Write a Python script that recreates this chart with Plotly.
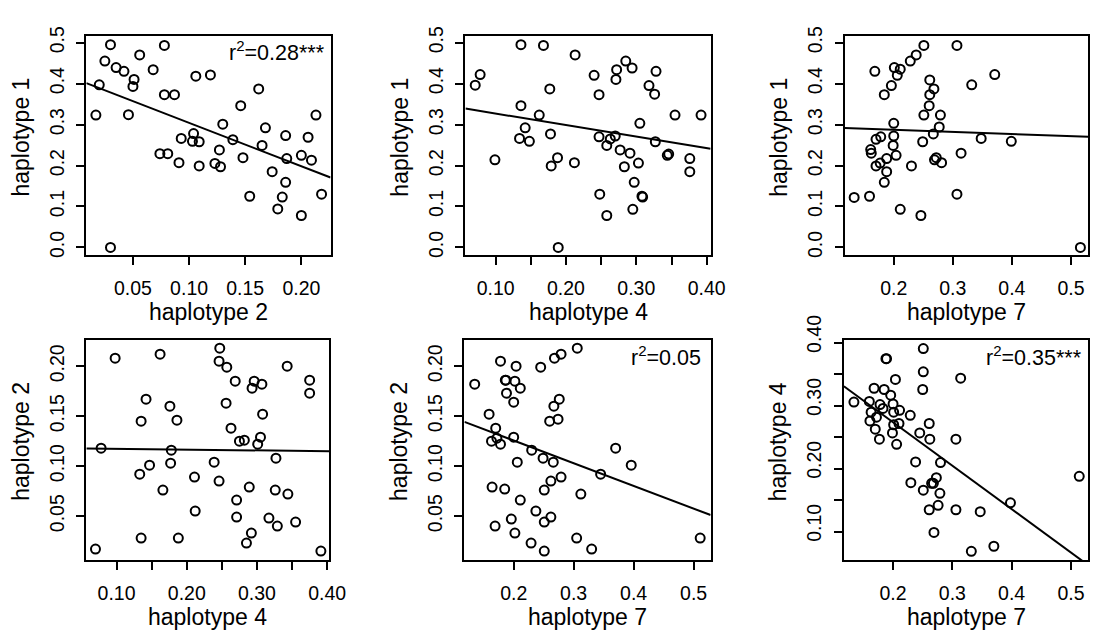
import plotly.graph_objects as go

W, H = 1107, 634
FONT = "Liberation Sans, Arial, Helvetica, sans-serif"

# ---- haplotype frequencies, one pair of arrays per panel ----
# panel 1: haplotype 2 (x) vs haplotype 1 (y)
h2_a = [0.030, 0.025, 0.020, 0.017, 0.035, 0.042, 0.051, 0.050, 0.056, 0.046, 0.068, 0.078,
        0.078, 0.087, 0.074, 0.081, 0.091, 0.093, 0.104, 0.103, 0.109, 0.106, 0.119, 0.109,
        0.123, 0.127, 0.128, 0.130, 0.139, 0.146, 0.148, 0.154, 0.162, 0.165, 0.168, 0.174,
        0.179, 0.183, 0.186, 0.187, 0.186, 0.200, 0.200, 0.206, 0.209, 0.213, 0.218, 0.030]
h1_a = [0.495, 0.455, 0.397, 0.323, 0.439, 0.430, 0.410, 0.393, 0.470, 0.324, 0.434, 0.493,
        0.373, 0.373, 0.229, 0.229, 0.207, 0.266, 0.278, 0.259, 0.258, 0.418, 0.421, 0.199,
        0.205, 0.238, 0.197, 0.301, 0.263, 0.346, 0.219, 0.125, 0.387, 0.249, 0.292, 0.185,
        0.094, 0.123, 0.273, 0.217, 0.159, 0.078, 0.225, 0.269, 0.213, 0.323, 0.130, 0.000]

# panel 2: haplotype 4 (x) vs haplotype 1 (y)
h4_b = [0.071, 0.078, 0.099, 0.136, 0.168, 0.136, 0.134, 0.142, 0.148, 0.162, 0.177, 0.178,
        0.188, 0.179, 0.189, 0.213, 0.212, 0.240, 0.247, 0.247, 0.248, 0.258, 0.258, 0.263,
        0.270, 0.272, 0.271, 0.277, 0.283, 0.285, 0.291, 0.294, 0.295, 0.297, 0.303, 0.305,
        0.308, 0.309, 0.318, 0.326, 0.327, 0.328, 0.344, 0.346, 0.355, 0.376, 0.376, 0.392]
h1_b = [0.396, 0.422, 0.214, 0.495, 0.493, 0.346, 0.266, 0.292, 0.259, 0.323, 0.387, 0.277,
        0.219, 0.199, 0.000, 0.470, 0.207, 0.420, 0.373, 0.270, 0.130, 0.249, 0.078, 0.265,
        0.272, 0.434, 0.410, 0.238, 0.197, 0.455, 0.230, 0.438, 0.093, 0.159, 0.206, 0.303,
        0.125, 0.123, 0.395, 0.374, 0.258, 0.430, 0.225, 0.228, 0.323, 0.217, 0.185, 0.323]

# panel 3: haplotype 7 (x) vs haplotype 1 (y)
h7_c = [0.133, 0.159, 0.168, 0.161, 0.162, 0.170, 0.178, 0.170, 0.177, 0.188, 0.188, 0.184,
        0.184, 0.196, 0.200, 0.200, 0.199, 0.204, 0.201, 0.206, 0.211, 0.211, 0.228, 0.238,
        0.230, 0.246, 0.251, 0.249, 0.251, 0.260, 0.261, 0.261, 0.268, 0.267, 0.269, 0.272,
        0.277, 0.279, 0.281, 0.307, 0.307, 0.314, 0.332, 0.348, 0.371, 0.399, 0.516]
h1_c = [0.122, 0.125, 0.430, 0.239, 0.230, 0.264, 0.270, 0.199, 0.206, 0.217, 0.185, 0.159,
        0.373, 0.395, 0.303, 0.272, 0.249, 0.225, 0.439, 0.420, 0.435, 0.093, 0.455, 0.470,
        0.199, 0.078, 0.493, 0.258, 0.323, 0.346, 0.409, 0.373, 0.387, 0.277, 0.214, 0.219,
        0.294, 0.323, 0.207, 0.493, 0.130, 0.230, 0.397, 0.266, 0.422, 0.259, 0.000]

# panel 4: haplotype 4 (x) vs haplotype 2 (y)
h4_d = [0.070, 0.078, 0.098, 0.135, 0.133, 0.135, 0.142, 0.147, 0.162, 0.166, 0.176, 0.186,
        0.178, 0.177, 0.188, 0.211, 0.212, 0.239, 0.246, 0.247, 0.246, 0.257, 0.256, 0.263,
        0.269, 0.271, 0.271, 0.275, 0.282, 0.285, 0.289, 0.292, 0.293, 0.296, 0.301, 0.305,
        0.307, 0.308, 0.317, 0.326, 0.327, 0.329, 0.343, 0.344, 0.355, 0.375, 0.375, 0.391]
h2_d = [0.017, 0.118, 0.208, 0.145, 0.092, 0.028, 0.167, 0.101, 0.212, 0.076, 0.160, 0.146,
        0.116, 0.103, 0.028, 0.089, 0.055, 0.104, 0.085, 0.218, 0.205, 0.199, 0.163, 0.138,
        0.185, 0.066, 0.049, 0.125, 0.126, 0.023, 0.079, 0.033, 0.178, 0.185, 0.122, 0.129,
        0.182, 0.152, 0.048, 0.076, 0.108, 0.040, 0.200, 0.072, 0.044, 0.186, 0.173, 0.015]

# panel 5: haplotype 7 (x) vs haplotype 2 (y)
h7_e = [0.135, 0.159, 0.163, 0.170, 0.172, 0.178, 0.178, 0.186, 0.187, 0.188, 0.200, 0.202,
        0.204, 0.211, 0.200, 0.206, 0.164, 0.185, 0.169, 0.196, 0.202, 0.211, 0.229, 0.230,
        0.237, 0.245, 0.249, 0.251, 0.251, 0.251, 0.260, 0.262, 0.262, 0.266, 0.267, 0.268,
        0.274, 0.276, 0.279, 0.279, 0.305, 0.306, 0.312, 0.330, 0.345, 0.370, 0.396, 0.511]
h2_e = [0.182, 0.152, 0.125, 0.138, 0.128, 0.205, 0.122, 0.186, 0.186, 0.173, 0.164, 0.185,
        0.200, 0.178, 0.129, 0.104, 0.079, 0.077, 0.040, 0.047, 0.033, 0.066, 0.023, 0.116,
        0.055, 0.199, 0.108, 0.076, 0.044, 0.015, 0.145, 0.085, 0.049, 0.104, 0.160, 0.208,
        0.147, 0.167, 0.212, 0.089, 0.028, 0.218, 0.072, 0.017, 0.092, 0.118, 0.101, 0.028]

# panel 6: haplotype 7 (x) vs haplotype 4 (y)
h7_f = [0.134, 0.160, 0.163, 0.161, 0.168, 0.172, 0.170, 0.178, 0.177, 0.185, 0.183, 0.188,
        0.189, 0.196, 0.200, 0.201, 0.204, 0.201, 0.199, 0.206, 0.211, 0.210, 0.229, 0.230,
        0.238, 0.245, 0.250, 0.251, 0.251, 0.251, 0.261, 0.262, 0.261, 0.265, 0.268, 0.273,
        0.269, 0.276, 0.280, 0.279, 0.306, 0.306, 0.314, 0.332, 0.347, 0.370, 0.398, 0.514]
h4_f = [0.306, 0.307, 0.290, 0.276, 0.328, 0.282, 0.263, 0.302, 0.247, 0.326, 0.296, 0.375,
        0.375, 0.317, 0.303, 0.290, 0.342, 0.270, 0.257, 0.239, 0.293, 0.272, 0.285, 0.178,
        0.211, 0.257, 0.326, 0.354, 0.391, 0.166, 0.272, 0.247, 0.135, 0.177, 0.177, 0.186,
        0.099, 0.142, 0.210, 0.161, 0.247, 0.135, 0.344, 0.069, 0.132, 0.077, 0.146, 0.188]

# fitted regression lines (intercept, slope) and r-squared labels
fit_intercepts = [0.410, 0.355, 0.298, 0.118, 0.171, 0.412]
fit_slopes = [-1.059, -0.2815, -0.053, -0.0075, -0.227, -0.690]
r2_labels = ["r<sup>2</sup>=0.28***", None, None, None, "r<sup>2</sup>=0.05", "r<sup>2</sup>=0.35***"]

x_titles = ["haplotype 2", "haplotype 4", "haplotype 7", "haplotype 4", "haplotype 7", "haplotype 7"]
y_titles = ["haplotype 1", "haplotype 1", "haplotype 1", "haplotype 2", "haplotype 2", "haplotype 4"]

xs = [h2_a, h4_b, h7_c, h4_d, h7_e, h7_f]
ys = [h1_a, h1_b, h1_c, h2_d, h2_e, h4_f]

# labelled ticks; a step in *_minor adds unlabelled ticks in between
x_ticks = [
    ([0.05, 0.10, 0.15, 0.20], ["0.05", "0.10", "0.15", "0.20"]),
    ([0.10, 0.20, 0.30, 0.40], ["0.10", "0.20", "0.30", "0.40"]),
    ([0.2, 0.3, 0.4, 0.5], ["0.2", "0.3", "0.4", "0.5"]),
    ([0.10, 0.20, 0.30, 0.40], ["0.10", "0.20", "0.30", "0.40"]),
    ([0.2, 0.3, 0.4, 0.5], ["0.2", "0.3", "0.4", "0.5"]),
    ([0.2, 0.3, 0.4, 0.5], ["0.2", "0.3", "0.4", "0.5"]),
]
x_minor = [None, 0.05, None, 0.05, None, None]
y_top = ([0.0, 0.1, 0.2, 0.3, 0.4, 0.5], ["0.0", "0.1", "0.2", "0.3", "0.4", "0.5"])
y_mid = ([0.05, 0.10, 0.15, 0.20], ["0.05", "0.10", "0.15", "0.20"])
y_ticks = [
    y_top, y_top, y_top, y_mid, y_mid,
    ([0.10, 0.20, 0.30, 0.40], ["0.10", "0.20", "0.30", "0.40"]),
]
y_minor = [None, None, None, None, None, 0.05]
y_label_shift = [0, 0, 0, 0, 0, -6]

# axis ranges
x_ranges = [[0.0085, 0.226], [0.0571, 0.4056], [0.1167, 0.5294],
            [0.0570, 0.4028], [0.1179, 0.5284], [0.1170, 0.5293]]
y_ranges = [[-0.0195, 0.5156], [-0.0195, 0.5156], [-0.0195, 0.5156],
            [0.0056, 0.2265], [0.0056, 0.2265], [0.0544, 0.4051]]

# plot boxes in pixels: left, right, top, bottom
boxes = [
    (87.7, 335.7, 11.7, 240.7), (472.7, 721.7, 11.7, 240.7), (857.7, 1105.3, 11.7, 240.7),
    (87.7, 334.3, 328.7, 559.3), (471.7, 721.7, 328.7, 559.3), (857.0, 1105.3, 328.7, 559.3),
]
r2_pos = [(0.985, 0.934), None, None, None, (0.968, 0.928), (0.981, 0.928)]


def px_x(v):
    return v / W


def px_y(v):
    return 1 - v / H


def minor_spec(step):
    if step is None:
        return dict(ticks="")
    return dict(ticks="outside", dtick=step, tick0=0, ticklen=8, tickwidth=2,
                tickcolor="black", showgrid=False)


fig = go.Figure()
annotations = []
layout = {}

for i in range(6):
    n = i + 1
    xa = "x" if n == 1 else f"x{n}"
    ya = "y" if n == 1 else f"y{n}"
    l, r, t, b = boxes[i]

    fig.add_trace(go.Scatter(
        x=xs[i], y=ys[i], mode="markers", xaxis=xa, yaxis=ya, showlegend=False,
        marker=dict(symbol="circle-open", size=9, color="black", line=dict(width=2, color="black")),
    ))
    x0, x1 = x_ranges[i]
    fig.add_trace(go.Scatter(
        x=[x0, x1],
        y=[fit_intercepts[i] + fit_slopes[i] * x0, fit_intercepts[i] + fit_slopes[i] * x1],
        mode="lines", xaxis=xa, yaxis=ya, showlegend=False,
        line=dict(color="black", width=2),
    ))

    common = dict(showline=True, mirror=True, linecolor="black", linewidth=2,
                  showgrid=False, zeroline=False, ticks="outside", ticklen=8,
                  tickwidth=2, tickcolor="black",
                  tickfont=dict(family=FONT, size=19.5, color="black"))
    layout["xaxis" if n == 1 else f"xaxis{n}"] = dict(
        common, domain=[px_x(l), px_x(r)], range=x_ranges[i], anchor=ya,
        tickmode="array", tickvals=x_ticks[i][0], ticktext=x_ticks[i][1],
        ticklabelstandoff=6, minor=minor_spec(x_minor[i]),
    )
    layout["yaxis" if n == 1 else f"yaxis{n}"] = dict(
        common, domain=[px_y(b), px_y(t)], range=y_ranges[i], anchor=xa,
        tickmode="array", tickvals=y_ticks[i][0], ticktext=y_ticks[i][1],
        tickangle=-90, ticklabelstandoff=5, ticklabelshift=y_label_shift[i],
        minor=minor_spec(y_minor[i]),
    )

    # axis titles
    annotations.append(dict(
        text=x_titles[i], xref="paper", yref="paper",
        x=px_x((l + r) / 2), y=px_y(b + 59), xanchor="center", yanchor="middle",
        showarrow=False, font=dict(family=FONT, size=23, color="black"),
    ))
    annotations.append(dict(
        text=y_titles[i], xref="paper", yref="paper", textangle=-90,
        x=px_x(l - 66), y=px_y((t + b) / 2 - 9), xanchor="center", yanchor="middle",
        showarrow=False, font=dict(family=FONT, size=23, color="black"),
    ))
    if r2_labels[i]:
        ax_, ay_ = r2_pos[i]
        annotations.append(dict(
            text=r2_labels[i], xref=f"{xa} domain", yref=f"{ya} domain",
            x=ax_, y=ay_, xanchor="right", yanchor="middle", showarrow=False,
            font=dict(family=FONT, size=21.5, color="black"),
        ))

fig.update_layout(
    width=W, height=H, margin=dict(l=0, r=0, t=0, b=0),
    paper_bgcolor="white", plot_bgcolor="white",
    annotations=annotations, **layout,
)

fig.write_html("out.html")
